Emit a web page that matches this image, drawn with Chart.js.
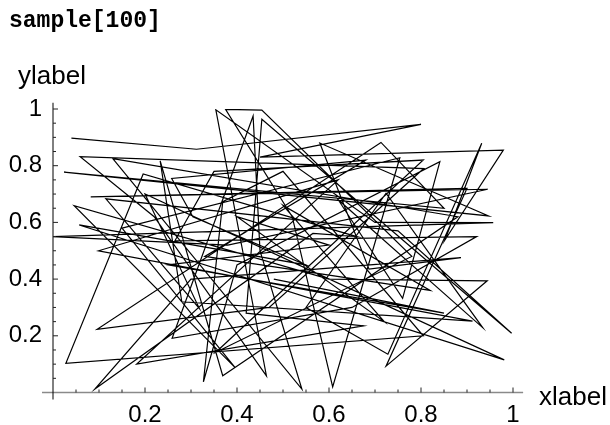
<!DOCTYPE html>
<html><head><meta charset="utf-8">
<script src="https://cdn.jsdelivr.net/npm/chart.js@4.4.0/dist/chart.umd.min.js"></script>
<style>html,body{margin:0;padding:0;background:#fff;overflow:hidden}</style>
</head><body>
<canvas id="c" width="610" height="425" style="width:610px;height:425px;display:block"></canvas>
<script>
// sample[100]: 100 points joined in order
const xValues = [0.04,0.312,0.80,0.45,0.979,0.852,0.932,0.728,0.55,0.724,
0.934,0.62,0.76,0.841,0.40,0.327,0.369,0.50,0.805,0.028,
0.196,0.66,0.565,0.091,0.30,0.887,0.687,0.58,0.947,0.024,
0.85,0.713,0.096,0.47,0.806,0.059,0.22,0.464,0.354,0.70,
0.957,0.0,0.38,0.945,0.082,0.90,0.724,0.944,0.60,0.046,
0.396,0.15,0.754,0.608,0.52,0.375,0.454,0.78,0.354,0.805,
0.35,0.265,0.921,0.65,0.259,0.435,0.45,0.541,0.13,0.88,
0.369,0.233,0.28,0.912,0.099,0.62,0.182,0.675,0.42,0.454,
0.997,0.75,0.115,0.318,0.20,0.981,0.057,0.55,0.304,0.258,
0.68,0.33,0.82,0.50,0.72,0.40,0.60,0.25,0.85,0.48];
const yValues = [0.897,0.858,0.946,0.83,0.855,0.538,0.879,0.135,0.30,0.703,
0.229,0.68,0.332,0.814,0.45,0.038,0.673,0.78,0.20,0.103,
0.771,0.55,0.561,0.012,0.40,0.476,0.435,0.88,0.623,0.777,
0.65,0.882,0.223,0.30,0.79,0.832,0.62,0.059,0.997,0.60,
0.599,0.55,0.52,0.717,0.69,0.72,0.093,0.394,0.40,0.659,
0.088,0.58,0.828,0.02,0.62,0.999,0.996,0.48,0.142,0.82,
0.78,0.535,0.55,0.30,0.191,0.975,0.50,0.012,0.825,0.62,
0.059,0.817,0.32,0.252,0.50,0.75,0.10,0.235,0.28,0.964,
0.209,0.57,0.683,0.297,0.70,0.115,0.591,0.45,0.62,0.755,
0.82,0.48,0.36,0.66,0.25,0.62,0.52,0.45,0.28,0.40];
const xTickLabels = ['0.2','0.4','0.6','0.8','1'];
const yTickLabels = ['0.2','0.4','0.6','0.8','1'];
const titleText = 'sample[100]';
const xAxisLabel = 'xlabel';
const yAxisLabel = 'ylabel';

const FONT = "'Liberation Sans', Arial, Helvetica, sans-serif";
function labelFor(list, v){
  const k = Math.round(v*5);
  if (k <= 0 || Math.abs(v*5-k) > 1e-6) return '';
  return list[k-1] || '';
}

const axesPlugin = {
  id: 'mmaAxes',
  afterDraw(chart){
    const ctx = chart.ctx, xs = chart.scales.x, ys = chart.scales.y;
    const x0 = xs.getPixelForValue(0), y0 = ys.getPixelForValue(0);
    ctx.save();
    // x axis (grey)
    ctx.strokeStyle = '#8a8a8a'; ctx.lineWidth = 1.4;
    ctx.beginPath(); ctx.moveTo(x0-11, y0); ctx.lineTo(xs.getPixelForValue(1.022), y0); ctx.stroke();
    // y axis (black)
    ctx.strokeStyle = '#000'; ctx.lineWidth = 1;
    ctx.beginPath(); ctx.moveTo(x0, ys.getPixelForValue(1.022)); ctx.lineTo(x0, y0+7); ctx.stroke();
    // ticks
    ctx.strokeStyle = '#222'; ctx.lineWidth = 1;
    for (let i=1;i<=20;i++){
      const v = i/20, major = (i%4===0), len = major?5:3;
      const px = xs.getPixelForValue(v);
      ctx.beginPath(); ctx.moveTo(px, y0); ctx.lineTo(px, y0-len); ctx.stroke();
      const py = ys.getPixelForValue(v);
      ctx.beginPath(); ctx.moveTo(x0, py); ctx.lineTo(x0+len, py); ctx.stroke();
    }
    // texts
    ctx.fillStyle = '#000';
    ctx.textAlign = 'left'; ctx.textBaseline = 'alphabetic';
    ctx.font = "bold 23px 'Liberation Mono', 'Courier New', monospace";
    ctx.fillText(titleText, 9, 27);
    ctx.font = '26px ' + FONT;
    ctx.fillText(yAxisLabel, 18, 84);
    ctx.fillText(xAxisLabel, 539, 405);
    ctx.restore();
  }
};

new Chart(document.getElementById('c'), {
  type: 'scatter',
  data: { datasets: [{
    data: xValues.map((x,i)=>({x:x, y:yValues[i]})),
    showLine: true, borderColor: '#000', borderWidth: 1.2,
    pointRadius: 0, pointHoverRadius: 0, tension: 0, fill: false
  }]},
  options: {
    responsive: false, animation: false, devicePixelRatio: 1,
    layout: { padding: { top: 109, right: 97, left: 0, bottom: 0 } },
    plugins: { legend: {display:false}, tooltip: {enabled:false}, title: {display:false} },
    scales: {
      x: { type:'linear', min:0, max:1, position:'bottom',
        grid:{display:false, drawTicks:false}, border:{display:false},
        ticks:{ stepSize:0.2, autoSkip:false, maxRotation:0, padding:8, color:'#000',
          font:{family:FONT, size:24}, callback:(v)=>labelFor(xTickLabels, v) },
        afterFit:(s)=>{ s.height = 32.5; } },
      y: { type:'linear', min:0, max:1, position:'left',
        grid:{display:false, drawTicks:false}, border:{display:false},
        ticks:{ stepSize:0.2, autoSkip:false, padding:11, color:'#000',
          font:{family:FONT, size:24}, callback:(v)=>labelFor(yTickLabels, v) },
        afterFit:(s)=>{ s.width = 53; } }
    }
  },
  plugins: [axesPlugin]
});
</script>
</body></html>
